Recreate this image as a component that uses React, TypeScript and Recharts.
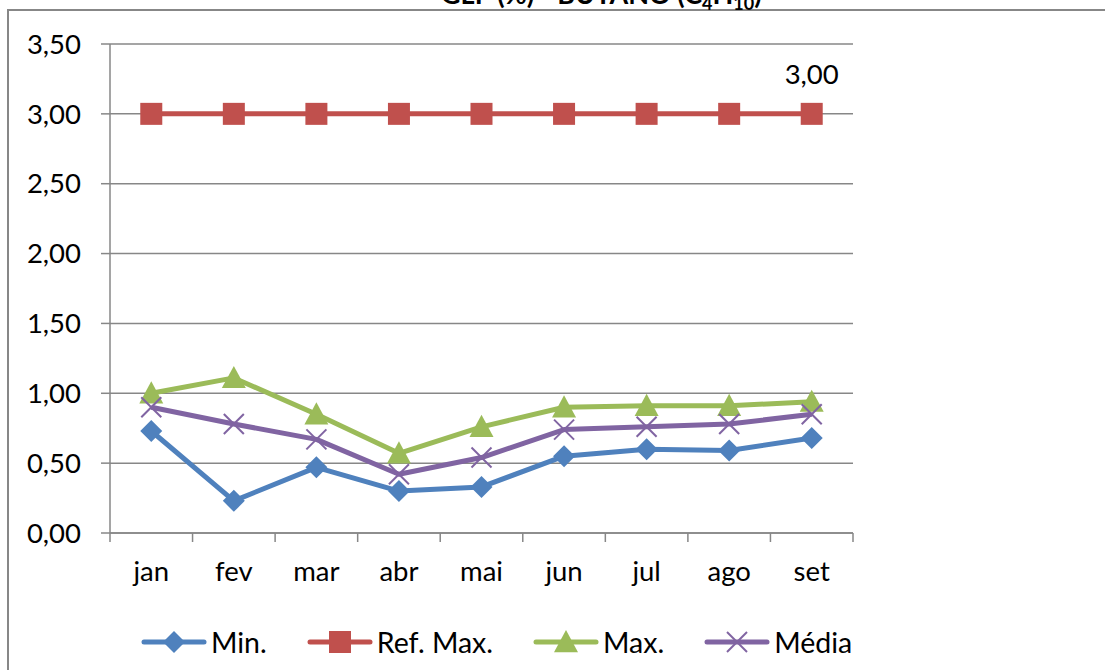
import React from 'react'
import { LineChart, Line, XAxis, YAxis, CartesianGrid, Legend } from 'recharts'

const months = ['jan', 'fev', 'mar', 'abr', 'mai', 'jun', 'jul', 'ago', 'set']
const minVals = [0.73, 0.23, 0.47, 0.3, 0.33, 0.55, 0.6, 0.59, 0.68]
const refMaxVals = [3, 3, 3, 3, 3, 3, 3, 3, 3]
const maxVals = [1.0, 1.11, 0.85, 0.57, 0.76, 0.9, 0.91, 0.91, 0.94]
const mediaVals = [0.9, 0.78, 0.67, 0.42, 0.54, 0.74, 0.76, 0.78, 0.85]
const yTicks = [0, 0.5, 1, 1.5, 2, 2.5, 3, 3.5]
const xEdges = [0, 1, 2, 3, 4, 5, 6, 7, 8, 9]

const W = 1105
const H = 670
const PLOT_LEFT = 110
const PLOT_RIGHT = 853
const PLOT_TOP = 44
const PLOT_BOTTOM = 533
const X_AXIS_H = 60
const LEGEND_H = 40
const AXIS_FS = 27.5
const LEGEND_FS = 28.5

const BLUE = '#4f81bd'
const RED = '#c0504d'
const GREEN = '#9bbb59'
const PURPLE = '#8064a2'
const GRID = '#878787'
const FONT = 'Lato, Carlito, Calibri, sans-serif'

// category i sits in the middle of [i, i+1] so the x ticks fall on the boundaries
const data = months.map((m, i) => ({
  pos: i + 0.5,
  month: m,
  min: minVals[i],
  refMax: refMaxVals[i],
  max: maxVals[i],
  media: mediaVals[i],
}))

const halfBand = (PLOT_RIGHT - PLOT_LEFT) / months.length / 2
const fmt = (v: number) => v.toFixed(2).replace('.', ',')

const Diamond = ({ cx, cy, s = 11 }: any) => (
  <polygon points={`${cx},${cy - s} ${cx + s},${cy} ${cx},${cy + s} ${cx - s},${cy}`} fill={BLUE} />
)
const Square = ({ cx, cy, s = 11 }: any) => (
  <rect x={cx - s} y={cy - s} width={s * 2} height={s * 2} fill={RED} />
)
const Triangle = ({ cx, cy, s = 12 }: any) => (
  <polygon points={`${cx},${cy - s} ${cx + s},${cy + s * 0.85} ${cx - s},${cy + s * 0.85}`} fill={GREEN} />
)
const Cross = ({ cx, cy, s = 10 }: any) => (
  <g stroke={PURPLE} strokeWidth={2}>
    <line x1={cx - s} y1={cy - s} x2={cx + s} y2={cy + s} />
    <line x1={cx - s} y1={cy + s} x2={cx + s} y2={cy - s} />
  </g>
)

const MonthTick = ({ x, y, payload }: any) => {
  const i = payload.value
  if (i >= months.length) return <g />
  return (
    <text x={x + halfBand} y={y} dy={31} textAnchor="middle" fontSize={AXIS_FS} fontFamily={FONT} fill="#000">
      {months[i]}
    </text>
  )
}

const legendItems = [
  { name: 'Min.', color: BLUE, Mark: Diamond },
  { name: 'Ref. Max.', color: RED, Mark: Square },
  { name: 'Max.', color: GREEN, Mark: Triangle },
  { name: 'Média', color: PURPLE, Mark: Cross },
]

const renderLegend = () => (
  <div style={{ display: 'flex', alignItems: 'center', height: LEGEND_H, paddingLeft: 141, fontFamily: FONT, fontSize: LEGEND_FS }}>
    {legendItems.map(({ name, color, Mark }) => (
      <div key={name} style={{ display: 'flex', alignItems: 'center', marginRight: 40 }}>
        <svg width={66} height={26} style={{ marginRight: 4 }}>
          <line x1={3} y1={13} x2={63} y2={13} stroke={color} strokeWidth={5} strokeLinecap="round" />
          <Mark cx={33} cy={13} />
        </svg>
        <span>{name}</span>
      </div>
    ))}
  </div>
)

const refLabel = (props: any) => {
  const { x, y, index, value } = props
  if (index !== months.length - 1) return <g key={`l${index}`} />
  return (
    <text key={`l${index}`} x={x} y={y - 30} textAnchor="middle" fontSize={AXIS_FS} fontFamily={FONT} fill="#000">
      {fmt(value)}
    </text>
  )
}

export default function App() {
  return (
    <div style={{ position: 'absolute', left: 0, top: 0, width: W, height: H, overflow: 'hidden', background: '#fff' }}>
      <div style={{ position: 'absolute', left: 7, top: 9, width: W, height: H, borderLeft: `2px solid ${GRID}`, borderTop: `2px solid ${GRID}` }} />
      <div style={{ position: 'absolute', left: 441, top: -21, fontFamily: FONT, fontWeight: 700, fontSize: 27, color: '#000', whiteSpace: 'nowrap', lineHeight: '30px' }}>
        GLP (%) - BUTANO (C<sub style={{ fontSize: 18 }}>4</sub>H<sub style={{ fontSize: 18 }}>10</sub>)
      </div>
      <LineChart
        width={W}
        height={H}
        data={data}
        margin={{ top: PLOT_TOP, right: W - PLOT_RIGHT, left: 8, bottom: H - PLOT_BOTTOM - X_AXIS_H - LEGEND_H }}
        style={{ position: 'absolute', left: 0, top: 0 }}
      >
        <CartesianGrid vertical={false} stroke={GRID} strokeWidth={1.5} />
        <XAxis
          dataKey="pos"
          type="number"
          domain={[0, 9]}
          ticks={xEdges}
          interval={0}
          height={X_AXIS_H}
          tickSize={9}
          tickMargin={8}
          stroke={GRID}
          strokeWidth={1.5}
          tick={MonthTick}
        />
        <YAxis
          domain={[0, 3.5]}
          ticks={yTicks}
          interval={0}
          width={PLOT_LEFT - 8}
          tickSize={9}
          tickMargin={20}
          tickFormatter={fmt}
          stroke={GRID}
          strokeWidth={1.5}
          tick={{ fontSize: AXIS_FS, fontFamily: FONT, fill: '#000' }}
        />
        <Legend verticalAlign="bottom" content={renderLegend} wrapperStyle={{ left: 0, bottom: 8, width: W, height: LEGEND_H }} />
        <Line
          dataKey="min"
          name="Min."
          stroke={BLUE}
          strokeWidth={5}
          strokeLinejoin="round"
          isAnimationActive={false}
          activeDot={false}
          dot={(p: any) => <Diamond key={`d${p.index}`} cx={p.cx} cy={p.cy} />}
        />
        <Line
          dataKey="refMax"
          name="Ref. Max."
          stroke={RED}
          strokeWidth={5}
          strokeLinejoin="round"
          isAnimationActive={false}
          activeDot={false}
          dot={(p: any) => <Square key={`s${p.index}`} cx={p.cx} cy={p.cy} />}
          label={refLabel}
        />
        <Line
          dataKey="max"
          name="Max."
          stroke={GREEN}
          strokeWidth={5}
          strokeLinejoin="round"
          isAnimationActive={false}
          activeDot={false}
          dot={(p: any) => <Triangle key={`t${p.index}`} cx={p.cx} cy={p.cy} />}
        />
        <Line
          dataKey="media"
          name="Média"
          stroke={PURPLE}
          strokeWidth={5}
          strokeLinejoin="round"
          isAnimationActive={false}
          activeDot={false}
          dot={(p: any) => <Cross key={`c${p.index}`} cx={p.cx} cy={p.cy} />}
        />
      </LineChart>
    </div>
  )
}
